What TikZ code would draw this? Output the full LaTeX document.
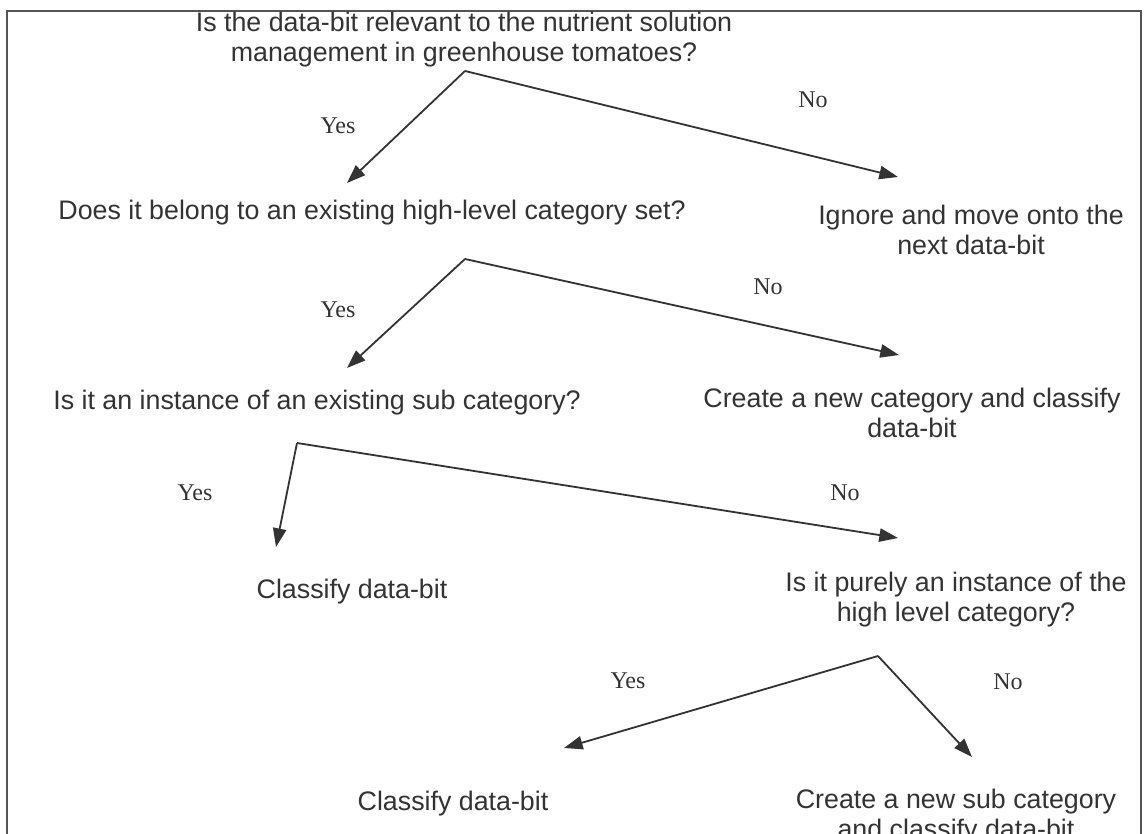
\documentclass[tikz,border=0pt]{standalone}
\usepackage{fontspec}
\setmainfont{Liberation Sans}
\newfontfamily\labelfont{Liberation Serif}
\usetikzlibrary{arrows.meta}
\definecolor{ink}{HTML}{333333}
\definecolor{framegray}{HTML}{555555}
\begin{document}
\begin{tikzpicture}[x=0.75pt,y=-0.75pt,
  question/.style={inner sep=0pt, align=center, text=ink,
    font=\fontsize{20.1}{22.5}\selectfont},
  answer/.style={inner sep=0pt, text=ink,
    font=\labelfont\fontsize{18}{20}\selectfont},
  flow/.style={draw=ink, line width=1.35pt,
    -{Triangle[length=14pt,width=10pt]}}]
\useasboundingbox (0,0) rectangle (1147,834);
\fill[white] (0,0) rectangle (1147,834);
% open frame (bottom edge runs off the page)
\draw[framegray, line width=1.1pt] (7,834) -- (7,11) -- (1141,11) -- (1141,834);

% questions and outcomes
\node[question] (q1) at (464,40) {Is the data-bit relevant to the nutrient solution\\management in greenhouse tomatoes?};
\node[question] (q2) at (372,213) {Does it belong to an existing high-level category set?};
\node[question] (ignore) at (971,230) {Ignore and move onto the\\next data-bit};
\node[question] (q3) at (317,403) {Is it an instance of an existing sub category?};
\node[question] (newcat) at (912,413) {Create a new category and classify\\data-bit};
\node[question] (cls1) at (352,592) {Classify data-bit};
\node[question] (q4) at (956,600) {Is it purely an instance of the\\high level category?};
\node[question] (cls2) at (453,804) {Classify data-bit};
\node[question] (newsub) at (956,817) {Create a new sub category\\and classify data-bit};

% branch labels
\node[answer] (y1) at (338,126) {Yes};
\node[answer] (n1) at (813,100) {No};
\node[answer] (y2) at (338,310) {Yes};
\node[answer] (n2) at (768,287) {No};
\node[answer] (y3) at (195,493) {Yes};
\node[answer] (n3) at (845,493) {No};
\node[answer] (y4) at (628,681) {Yes};
\node[answer] (n4) at (1008,682) {No};

% branch points and arrow tips
\coordinate (a1) at (465,71);
\coordinate (a1y) at (347,183);
\coordinate (a1n) at (898,177);
\coordinate (a2) at (465,259);
\coordinate (a2y) at (347,368);
\coordinate (a2n) at (899,355);
\coordinate (a3) at (297,443);
\coordinate (a3y) at (276,547);
\coordinate (a3n) at (898,538);
\coordinate (a4) at (878,656);
\coordinate (a4y) at (564,748);
\coordinate (a4n) at (972,757);

\draw[flow] (a1) -- (a1y);
\draw[flow] (a1) -- (a1n);
\draw[flow] (a2) -- (a2y);
\draw[flow] (a2) -- (a2n);
\draw[flow] (a3) -- (a3y);
\draw[flow] (a3) -- (a3n);
\draw[flow] (a4) -- (a4y);
\draw[flow] (a4) -- (a4n);
\end{tikzpicture}
\end{document}
